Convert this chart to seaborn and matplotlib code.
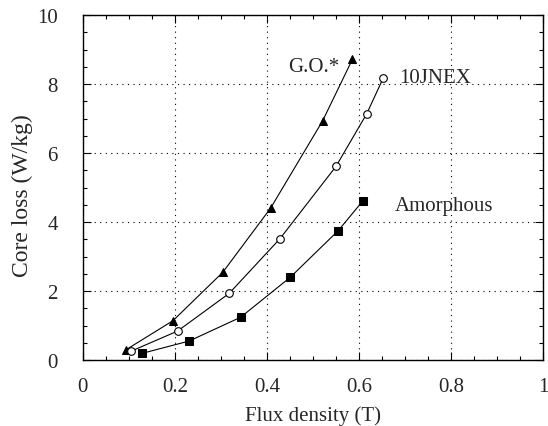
import matplotlib
matplotlib.use("Agg")
import matplotlib.pyplot as plt
import seaborn as sns
import pandas as pd
from matplotlib.ticker import MultipleLocator

# data
go_x = [0.093, 0.196, 0.304, 0.408, 0.521, 0.586]
go_y = [0.29, 1.14, 2.54, 4.40, 6.93, 8.72]

jnex_x = [0.104, 0.206, 0.318, 0.428, 0.550, 0.617, 0.653]
jnex_y = [0.25, 0.84, 1.93, 3.51, 5.61, 7.14, 8.18]

amor_x = [0.128, 0.231, 0.343, 0.451, 0.555, 0.609]
amor_y = [0.19, 0.55, 1.24, 2.40, 3.75, 4.62]

sns.set_style("ticks")
plt.rcParams["font.family"] = ["Liberation Serif", "DejaVu Serif"]

fig = plt.figure(figsize=(5.48, 4.27), dpi=100)
ax = fig.add_axes([0.151, 0.1545, 0.84, 0.808])

# G.O. - filled triangles
sns.lineplot(x=go_x, y=go_y, ax=ax, color="black", lw=0.8, marker="^",
             markersize=6, markerfacecolor="black", markeredgecolor="black")
# 10JNEX - open circles
sns.lineplot(x=jnex_x, y=jnex_y, ax=ax, color="black", lw=0.8, marker="o",
             markersize=5.5, markerfacecolor="white", markeredgecolor="black",
             markeredgewidth=0.8)
# Amorphous - filled squares
sns.lineplot(x=amor_x, y=amor_y, ax=ax, color="black", lw=0.8, marker="s",
             markersize=5.5, markerfacecolor="black", markeredgecolor="black")

ax.set_xlim(0, 1)
ax.set_ylim(0, 10)
ax.xaxis.set_major_locator(MultipleLocator(0.2))
ax.xaxis.set_minor_locator(MultipleLocator(0.05))
ax.yaxis.set_major_locator(MultipleLocator(2))
ax.yaxis.set_minor_locator(MultipleLocator(0.5))
ax.set_xticks([0, 0.2, 0.4, 0.6, 0.8, 1])
ax.set_xticklabels(["0", "0.2", "0.4", "0.6", "0.8", "1"])
ax.tick_params(axis="both", which="both", direction="in", top=True, right=True,
               color="black", width=0.8)
ax.tick_params(axis="x", which="major", length=6, labelsize=15, pad=12)
ax.tick_params(axis="y", which="major", length=6, labelsize=15, pad=18)
ax.tick_params(axis="both", which="minor", length=3)
ax.grid(True, which="major", linestyle=(0, (1, 4)), color="black", lw=0.8)
for s in ax.spines.values():
    s.set_color("black")
    s.set_linewidth(1.0)

ax.set_xlabel("Flux density (T)", fontsize=15, labelpad=7)
ax.set_ylabel("Core loss (W/kg)", fontsize=17)
ax.yaxis.set_label_coords(-0.108, 0.48)

ax.text(0.558, 8.52, "G.O.*", fontsize=15, ha="right", va="center")
ax.text(0.688, 8.20, "10JNEX", fontsize=15, ha="left", va="center")
ax.text(0.677, 4.49, "Amorphous", fontsize=15, ha="left", va="center")

fig.savefig("out.png", dpi=100)
